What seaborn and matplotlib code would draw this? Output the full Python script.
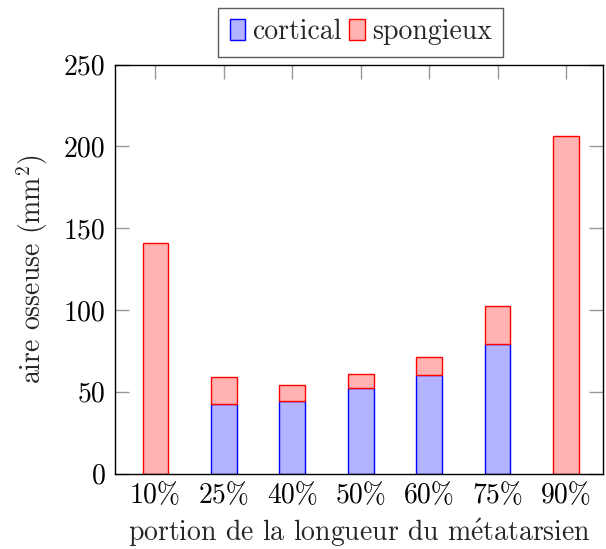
import matplotlib
matplotlib.use("Agg")
import matplotlib.pyplot as plt
import seaborn as sns
import numpy as np
import pandas as pd

categories = ["10%", "25%", "40%", "50%", "60%", "75%", "90%"]
cortical = [0.0, 42.7, 44.5, 52.1, 60.4, 79.4, 0.0]
spongieux = [141.2, 16.1, 9.8, 8.9, 10.9, 23.2, 206.4]
yticks = [0, 50, 100, 150, 200, 250]

sns.set_theme(style="white")
plt.rcParams["font.family"] = ["cmr10", "DejaVu Serif"]
plt.rcParams["mathtext.fontset"] = "cm"
plt.rcParams["axes.formatter.use_mathtext"] = True

FS = 20

fig = plt.figure(figsize=(6.06, 5.49), dpi=100)
ax = fig.add_axes([115/606, 1-473.5/549, 488/606, 408.8/549])

df = pd.DataFrame({"cat": categories, "cortical": cortical, "spongieux": spongieux})

sns.barplot(data=df, x="cat", y="cortical", ax=ax, width=0.374,
            color="#b3b3ff", edgecolor="blue", linewidth=1.0, saturation=1,
            label="cortical", order=categories)
sns.barplot(data=df, x="cat", y="spongieux", ax=ax, width=0.374,
            bottom=df["cortical"].values,
            color="#ffb3b3", edgecolor="red", linewidth=1.0, saturation=1,
            label="spongieux", order=categories)

ax.set_xlim(-0.59, 6.54)
ax.set_ylim(0, 250)
ax.set_yticks(yticks)
ax.set_yticklabels([str(v) for v in yticks])
ax.tick_params(axis="both", which="both", direction="in", length=10, width=1,
               color="#999999", labelsize=FS, labelcolor="black",
               top=True, right=True, bottom=True, left=True, pad=7)
for s in ax.spines.values():
    s.set_color("black")
    s.set_linewidth(1.0)
    s.set_visible(True)

ax.set_xlabel(r"portion de la longueur du m$\mathrm{\acute{e}}$tatarsien",
              fontsize=FS, labelpad=5)
ax.set_ylabel(r"aire osseuse (mm$^{2}$)", fontsize=FS, labelpad=10)

leg = ax.legend(loc="upper center", bbox_to_anchor=(0.503, 1.1387), ncol=2,
                fontsize=FS, frameon=True, fancybox=False, edgecolor="#333333",
                handlelength=0.55, handleheight=0.8, handletextpad=0.25,
                columnspacing=0.3, borderpad=0.4, borderaxespad=0)
leg.get_frame().set_linewidth(1.0)

fig.savefig("out.png", dpi=100)
